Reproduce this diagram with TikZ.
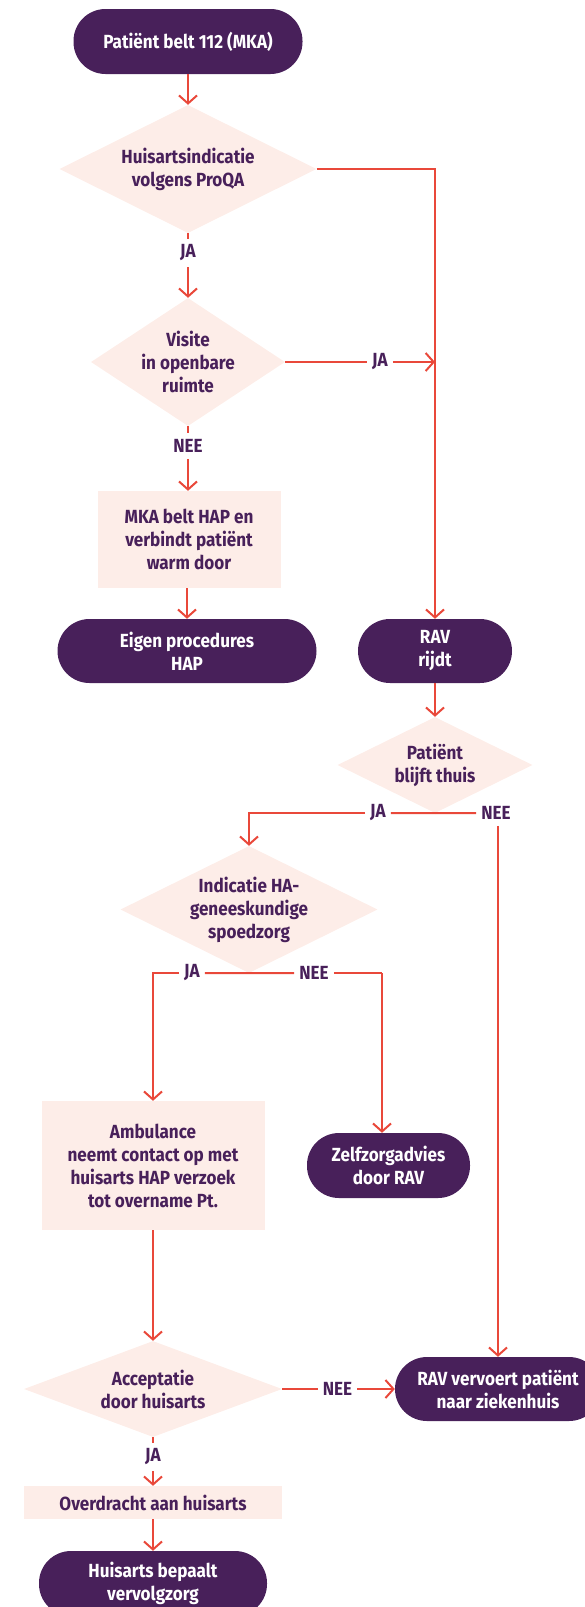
\documentclass[tikz,border=0pt]{standalone}
\usepackage{fontspec}
\setmainfont{Fira Sans}[FakeStretch=0.9]
\usetikzlibrary{shapes.geometric,arrows.meta}
\definecolor{pur}{RGB}{72,32,90}
\definecolor{pnk}{RGB}{253,237,232}
\definecolor{rd}{RGB}{233,72,58}
\tikzset{
  term/.style={rectangle, fill=pur, text=white, rounded corners=32pt, minimum height=65pt, inner sep=0pt, align=center},
  dec/.style={diamond, fill=pnk, text=pur, inner sep=-12pt, align=center, aspect=2},
  proc/.style={rectangle, fill=pnk, text=pur, inner sep=0pt, align=center},
  lbl/.style={text=pur, inner xsep=5pt, inner ysep=6pt},
  conn/.style={draw=rd, line width=2pt},
  arr/.style={conn, -{Straight Barb[length=8pt,width=18pt]}}
}
\begin{document}
\begin{tikzpicture}[x=1pt, y=-1pt, font=\bfseries\fontsize{19}{23}\selectfont]
\useasboundingbox (0,0) rectangle (585,1607);
% nodes
\node[term, minimum width=229pt] (start) at (188,41.5) {Patiënt belt 112 (MKA)};
\node[dec, minimum width=257pt, minimum height=128pt] (d1) at (188,169) {Huisartsindicatie\\volgens ProQA};
\node[dec, minimum width=194pt, minimum height=128pt, aspect=1.5] (d2) at (188,362) {Visite\\in openbare\\ruimte};
\node[proc, minimum width=183pt, minimum height=97pt] (box1) at (189,539.5) {MKA belt HAP en\\verbindt patiënt\\warm door};
\node[term, minimum width=259pt, minimum height=64pt] (eigen) at (187,651) {Eigen procedures\\HAP};
\node[term, minimum width=154pt, minimum height=64pt] (rav) at (435,651) {RAV\\rijdt};
\node[dec, minimum width=195pt, minimum height=96pt] (d3) at (435,765) {Patiënt\\blijft thuis};
\node[dec, minimum width=257pt, minimum height=127pt] (d4) at (249,909.5) {Indicatie HA-\\geneeskundige\\spoedzorg};
\node[proc, minimum width=223pt, minimum height=129pt] (amb) at (153,1165.5) {Ambulance\\neemt contact op met\\huisarts HAP verzoek\\tot overname Pt.};
\node[term, minimum width=163pt] (zelf) at (388.5,1165.5) {Zelfzorgadvies\\door RAV};
\node[dec, minimum width=258pt, minimum height=96pt] (d5) at (153,1389) {Acceptatie\\door huisarts};
\node[term, minimum width=206pt, minimum height=64pt] (ravv) at (498,1389) {RAV vervoert patiënt\\naar ziekenhuis};
\node[proc, minimum width=258pt, minimum height=33pt] (over) at (153,1502.5) {Overdracht aan huisarts};
\node[term, minimum width=228pt] (hbep) at (153,1583.5) {Huisarts bepaalt\\vervolgzorg};
% labels
\node[lbl] (ja1) at (188,253) {JA};
\node[lbl] (ja2) at (380,362) {JA};
\node[lbl] (nee2) at (188,446) {NEE};
\node[lbl] (ja3) at (378,813) {JA};
\node[lbl] (nee3) at (496,813) {NEE};
\node[lbl] (ja4) at (192,973) {JA};
\node[lbl] (nee4) at (314,973) {NEE};
\node[lbl] (nee5) at (337.5,1389) {NEE};
\node[lbl] (ja5) at (153,1457) {JA};
\coordinate (j2) at (435,362);
\coordinate (c4r) at (382,973);
% connectors
\draw[arr] (start) -- (d1);
\draw[arr] (d1.east) -| (rav.north);
\draw[conn] (d1.south) -- (ja1);
\draw[arr] (ja1) -- (d2.north);
\draw[conn] (d2.east) -- (ja2);
\draw[arr] (ja2) -- (j2);
\draw[conn] (d2.south) -- (nee2);
\draw[arr] (nee2) -- (box1.north -| nee2);
\draw[arr] (box1.south -| eigen.north) -- (eigen.north);
\draw[arr] (rav.south) -- (d3.north);
\draw[conn] (d3.south) -- (ja3);
\draw[arr] (ja3) -| (d4.north);
\draw[conn] (d3.south) -- (nee3);
\draw[arr] (nee3.south -| ravv.north) -- (ravv.north);
\draw[conn] (d4.south) -- (ja4);
\draw[arr] (ja4) -| (amb.north);
\draw[conn] (d4.south) -- (nee4);
\draw[conn] (nee4) -- (c4r);
\draw[arr] (c4r) -- (c4r |- zelf.north);
\draw[arr] (amb.south) -- (d5.north);
\draw[conn] (d5.east) -- (nee5);
\draw[arr] (nee5) -- (ravv.west);
\draw[conn] (d5.south) -- (ja5);
\draw[arr] (ja5) -- (over.north);
\draw[arr] (over.south) -- (hbep.north);
\end{tikzpicture}
\end{document}
